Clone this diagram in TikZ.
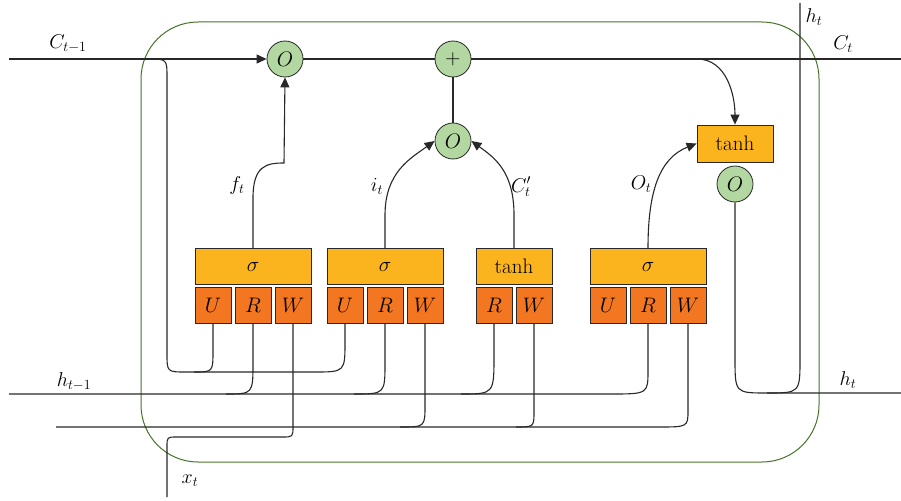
\RequirePackage{fix-cm}
\documentclass[tikz,border=0pt]{standalone}
\usepackage{fontspec}
\usetikzlibrary{arrows.meta}
\definecolor{gateyellow}{RGB}{251,180,30}
\definecolor{weightorange}{RGB}{243,118,33}
\definecolor{opgreen}{RGB}{178,215,160}
\definecolor{framegreen}{RGB}{70,115,40}
\definecolor{linegray}{RGB}{40,40,40}
\begin{document}
\begin{tikzpicture}[x=1pt,y=-1pt, font=\fontsize{21}{25}\selectfont,
  line/.style={draw=linegray, line width=1.1pt},
  arr/.style={line, -{Triangle[length=10pt,width=9pt]}},
  gatebox/.style={draw=linegray, line width=0.8pt, fill=gateyellow, minimum width=116pt, minimum height=36pt, inner sep=0pt},
  wbox/.style={draw=linegray, line width=0.8pt, fill=weightorange, minimum width=36pt, minimum height=36pt, inner sep=0pt},
  opc/.style={circle, draw=linegray, line width=0.8pt, fill=opgreen, minimum size=36pt, inner sep=0pt},
  frame/.style={draw=framegreen, line width=1pt, rounded corners=57pt},
  lbl/.style={inner sep=0pt, font=\fontsize{20}{24}\selectfont}]
\useasboundingbox (0,0) rectangle (901,500);

% frame
\draw[frame] (141,22) rectangle (819,462);

% operators
\node[opc] (o1) at (285,59) {$O$};
\node[opc] (plus) at (453,59) {$+$};
\node[opc] (o2) at (453,141) {$O$};
\node[gatebox, minimum width=76pt, minimum height=37pt] (tanhout) at (735,143.5) {tanh};
\node[opc] (o3) at (735,184) {$O$};

% gate 1 (forget)
\node[gatebox] (g1) at (253,266.5) {$\sigma$};
\node[wbox] (g1u) at (213,305.5) {$U$};
\node[wbox] (g1r) at (253,305.5) {$R$};
\node[wbox] (g1w) at (293,305.5) {$W$};
% gate 2 (input)
\node[gatebox] (g2) at (385,266.5) {$\sigma$};
\node[wbox] (g2u) at (345,305.5) {$U$};
\node[wbox] (g2r) at (385,305.5) {$R$};
\node[wbox] (g2w) at (425,305.5) {$W$};
% candidate
\node[gatebox, minimum width=76pt] (g3) at (514,266.5) {tanh};
\node[wbox] (g3r) at (494,305.5) {$R$};
\node[wbox] (g3w) at (534,305.5) {$W$};
% gate 4 (output)
\node[gatebox] (g4) at (648,266.5) {$\sigma$};
\node[wbox] (g4u) at (608,305.5) {$U$};
\node[wbox] (g4r) at (648,305.5) {$R$};
\node[wbox] (g4w) at (688,305.5) {$W$};

% free ends
\coordinate (cin) at (9,59);
\coordinate (cout) at (901,59);
\coordinate (cbranch) at (148,59);
\coordinate (ctap) at (697,59);
\coordinate (hin) at (9,394);
\coordinate (xin) at (56,427);
\coordinate (xbot) at (167,497);
\coordinate (hout) at (901,393);
\coordinate (hjoin) at (767,393);
\coordinate (htop) at (800,3);

% cell state line
\draw[arr] (cin) -- (o1);
\draw[line] (o1) -- (plus);
\draw[line] (plus) -- (cout);
\draw[line] (o2) -- (plus);

% peephole branch from C_{t-1}
\draw[line] (cbranch) .. controls (167,59) .. (167,78) -- (167,353)
  .. controls (167,372) .. (186,372) -- (314,372)
  .. controls (345,372) .. (345,341) -- (g2u.south);
\draw[line] (g1u.south) -- (213,350) .. controls (213,372) .. (194,372);

% h_{t-1} line
\draw[line] (hin) -- (610,394) .. controls (648,394) .. (648,370) -- (g4r.south);
\draw[line] (g1r.south) -- (253,362) .. controls (253,394) .. (226,394);
\draw[line] (g2r.south) -- (385,362) .. controls (385,394) .. (354,394);
\draw[line] (g3r.south) -- (494,355) .. controls (494,394) .. (461,394);

% x_t lines
\draw[line] (xin) -- (658,427) .. controls (688,427) .. (688,410) -- (g4w.south);
\draw[line] (g2w.south) -- (425,405) .. controls (425,427) .. (400,427);
\draw[line] (g3w.south) -- (534,411) .. controls (534,427) .. (516,427);
\draw[line] (xbot) -- (167,447) .. controls (167,437) .. (177,437) -- (282,437)
  .. controls (293,437) .. (293,426) -- (g1w.south);

% gate outputs
\draw[arr] (g1.north) -- (253,198) .. controls (253,166) and (266,163) .. (284,163) -- (o1.south);
\draw[arr] (g2.north) -- (385,215) .. controls (385,172) and (411,158) .. (o2.west);
\draw[arr] (g3.north) -- (514,215) .. controls (514,172) and (495,158) .. (o2.east);
\draw[arr] (ctap) to[out=0,in=90] (tanhout.north);
\draw[arr] (g4.north) .. controls (648,190) and (660,158) .. (tanhout.west);

% hidden output
\draw[line] (o3.south) -- (735,358) .. controls (735,393) .. (hjoin) -- (hout);
\draw[line] (hjoin) .. controls (800,393) .. (800,358) -- (htop);

% labels
\node[lbl] at (68,44) {$C_{t-1}$};
\node[lbl] at (843,44) {$C_t$};
\node[lbl] at (814,17) {$h_t$};
\node[lbl] at (74,382) {$h_{t-1}$};
\node[lbl] at (848,380) {$h_t$};
\node[lbl] at (190,481) {$x_t$};
\node[lbl] at (237,185) {$f_t$};
\node[lbl] at (377,186) {$i_t$};
\node[lbl] at (521,187) {$C'_t$};
\node[lbl] at (641,184) {$O_t$};
\end{tikzpicture}
\end{document}
